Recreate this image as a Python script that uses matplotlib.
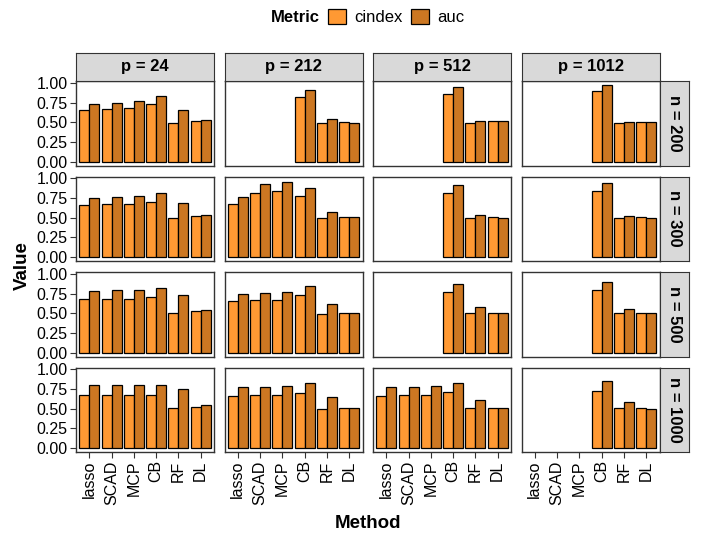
import matplotlib
matplotlib.use("Agg")
import matplotlib.pyplot as plt
from matplotlib.patches import Rectangle
import numpy as np

plt.rcParams['font.family'] = ['Liberation Sans', 'DejaVu Sans']

methods = ["lasso", "SCAD", "MCP", "CB", "RF", "DL"]
p_values = ["24", "212", "512", "1012"]
n_values = ["200", "300", "500", "1000"]
metrics = ["cindex", "auc"]
colors = {"cindex": "#FF9933", "auc": "#CC7722"}

nan = np.nan
# cindex[n][p] -> values per method
cindex = {
    "200": {
        "24":   [0.660, 0.665, 0.682, 0.729, 0.487, 0.517],
        "212":  [nan, nan, nan, 0.822, 0.492, 0.508],
        "512":  [nan, nan, nan, 0.864, 0.492, 0.513],
        "1012": [nan, nan, nan, 0.894, 0.492, 0.504],
    },
    "300": {
        "24":   [0.665, 0.669, 0.674, 0.703, 0.500, 0.517],
        "212":  [0.678, 0.818, 0.839, 0.775, 0.492, 0.504],
        "512":  [nan, nan, nan, 0.814, 0.496, 0.508],
        "1012": [nan, nan, nan, 0.839, 0.496, 0.504],
    },
    "500": {
        "24":   [0.677, 0.681, 0.681, 0.706, 0.502, 0.523],
        "212":  [0.660, 0.664, 0.672, 0.736, 0.494, 0.506],
        "512":  [nan, nan, nan, 0.770, 0.502, 0.506],
        "1012": [nan, nan, nan, 0.791, 0.502, 0.502],
    },
    "1000": {
        "24":   [0.674, 0.674, 0.674, 0.678, 0.504, 0.525],
        "212":  [0.665, 0.669, 0.674, 0.699, 0.500, 0.508],
        "512":  [0.665, 0.669, 0.674, 0.712, 0.504, 0.508],
        "1012": [nan, nan, nan, 0.725, 0.504, 0.508],
    },
}
auc = {
    "200": {
        "24":   [0.733, 0.746, 0.771, 0.839, 0.653, 0.534],
        "212":  [nan, nan, nan, 0.915, 0.542, 0.496],
        "512":  [nan, nan, nan, 0.953, 0.517, 0.513],
        "1012": [nan, nan, nan, 0.975, 0.500, 0.500],
    },
    "300": {
        "24":   [0.754, 0.763, 0.771, 0.818, 0.686, 0.530],
        "212":  [0.763, 0.932, 0.958, 0.877, 0.568, 0.504],
        "512":  [nan, nan, nan, 0.911, 0.530, 0.496],
        "1012": [nan, nan, nan, 0.936, 0.517, 0.500],
    },
    "500": {
        "24":   [0.783, 0.791, 0.791, 0.817, 0.732, 0.540],
        "212":  [0.749, 0.753, 0.774, 0.851, 0.613, 0.506],
        "512":  [nan, nan, nan, 0.877, 0.574, 0.506],
        "1012": [nan, nan, nan, 0.897, 0.553, 0.502],
    },
    "1000": {
        "24":   [0.797, 0.797, 0.797, 0.800, 0.754, 0.542],
        "212":  [0.780, 0.780, 0.784, 0.822, 0.653, 0.508],
        "512":  [0.771, 0.775, 0.784, 0.831, 0.610, 0.504],
        "1012": [nan, nan, nan, 0.847, 0.580, 0.492],
    },
}
values = {"cindex": cindex, "auc": auc}

W, H = 702, 533
fig = plt.figure(figsize=(W / 100, H / 100), dpi=100)

# panel layout in pixels
lefts = [76, 224.5, 373, 521.5]
pw = 138
tops = [81, 176.5, 272, 367.5]
ph = 84.5
strip_h = 28
strip_w = 29
DARK = "#333333"
STRIP = "#D9D9D9"


def px_axes(x, y, w, h):
    return fig.add_axes([x / W, 1 - (y + h) / H, w / W, h / H])


x = np.arange(1, len(methods) + 1)
bw = 0.45
for i, n in enumerate(n_values):
    for j, p in enumerate(p_values):
        ax = px_axes(lefts[j], tops[i], pw, ph)
        for k, m in enumerate(metrics):
            v = np.array(values[m][n][p], dtype=float)
            ok = ~np.isnan(v)
            ax.bar(x[ok] + (k - 0.5) * bw, v[ok], width=bw, color=colors[m],
                   edgecolor="black", linewidth=0.9)
        ax.set_xlim(0.4, 6.6)
        ax.set_ylim(-0.049, 1.024)
        ax.set_yticks([0, 0.25, 0.5, 0.75, 1.0])
        ax.set_xticks(x)
        for s in ax.spines.values():
            s.set_color(DARK)
            s.set_linewidth(1.0)
        ax.tick_params(colors=DARK, length=4, width=0.8, labelsize=11.5,
                       labelcolor="black", pad=2)
        if j == 0:
            ax.set_yticklabels(["0.00", "0.25", "0.50", "0.75", "1.00"])
        else:
            ax.tick_params(axis="y", left=False, labelleft=False)
        if i == len(n_values) - 1:
            ax.set_xticklabels(methods, rotation=90, va="top", ha="center")
        else:
            ax.tick_params(axis="x", bottom=False, labelbottom=False)

        # top strips
        if i == 0:
            sax = px_axes(lefts[j], tops[0] - strip_h, pw, strip_h)
            sax.set_facecolor(STRIP)
            sax.set_xticks([])
            sax.set_yticks([])
            for s in sax.spines.values():
                s.set_color(DARK)
            sax.text(0.5, 0.5, f"p = {p}", ha="center", va="center",
                     fontsize=12, fontweight="bold", transform=sax.transAxes)
        # right strips
        if j == len(p_values) - 1:
            sax = px_axes(lefts[j] + pw, tops[i], strip_w, ph)
            sax.set_facecolor(STRIP)
            sax.set_xticks([])
            sax.set_yticks([])
            for s in sax.spines.values():
                s.set_color(DARK)
            sax.text(0.5, 0.5, f"n = {n}", ha="center", va="center",
                     fontsize=12, fontweight="bold", rotation=-90,
                     transform=sax.transAxes)

fig.text(22 / W, 1 - 266 / H, "Value", rotation=90, ha="center", va="center",
         fontsize=13.5, fontweight="bold")
fig.text(368 / W, 1 - 523 / H, "Method", ha="center", va="center",
         fontsize=13.5, fontweight="bold")

# legend
fig.text(320 / W, 1 - 17 / H, "Metric", ha="right", va="center",
         fontsize=12, fontweight="bold")
handles = [Rectangle((0, 0), 1, 1, facecolor=colors[m], edgecolor="black",
                     linewidth=0.9) for m in metrics]
fig.legend(handles, metrics, loc="center left", bbox_to_anchor=(328 / W, 1 - 17 / H),
           ncol=2, frameon=False, fontsize=12, handlelength=1.05, handleheight=1.05,
           handletextpad=0.5, columnspacing=0.55, borderpad=0, borderaxespad=0)

fig.savefig("out.png", dpi=100)
